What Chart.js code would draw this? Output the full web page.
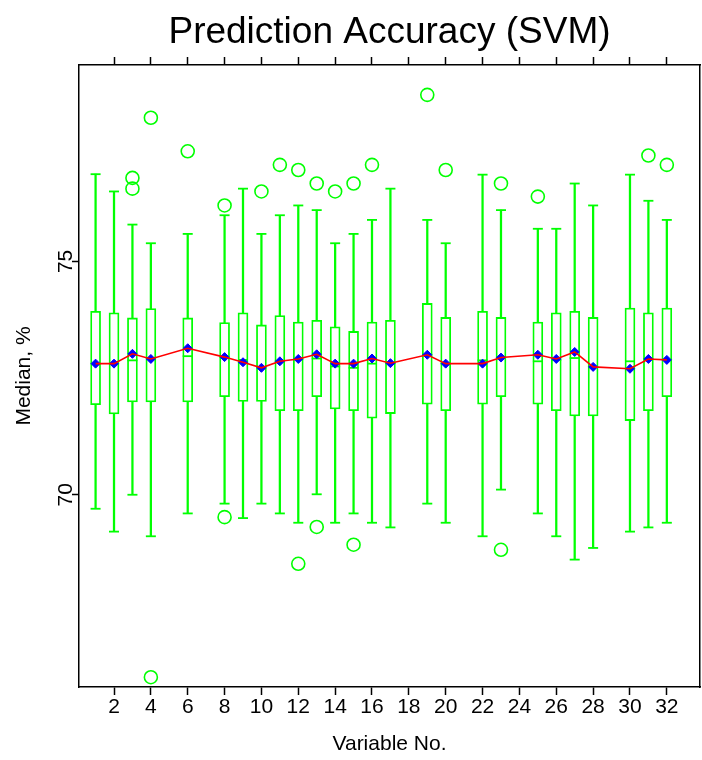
<!DOCTYPE html>
<html><head><meta charset="utf-8">
<script src="https://cdn.jsdelivr.net/npm/chart.js@4.4.0/dist/chart.umd.min.js"></script>
<style>html,body{margin:0;padding:0;background:#fff;}canvas{display:block;}</style>
</head><body>
<canvas id="c" width="702" height="760"></canvas>
<script>
// ---- data ----
const variables   = [1, 2, 3, 4, 6, 8, 9, 10, 11, 12, 13, 14, 15, 16, 17, 19, 20, 22, 23, 25, 26, 27, 28, 30, 31, 32];
const whiskerLow  = [69.70, 69.21, 70.00, 69.11, 69.60, 69.81, 69.50, 69.81, 69.60, 69.40, 70.01, 69.40, 69.60, 69.40, 69.30, 69.81, 69.40, 69.11, 70.11, 69.60, 69.11, 68.61, 68.86, 69.21, 69.30, 69.40];
const quartile1   = [71.93, 71.73, 71.99, 71.99, 71.99, 72.10, 72.00, 72.00, 71.80, 71.80, 72.10, 71.84, 71.80, 71.64, 71.74, 71.94, 71.80, 71.94, 72.10, 71.94, 71.80, 71.69, 71.69, 71.59, 71.80, 72.10];
const medians     = [72.81, 72.81, 72.88, 72.93, 72.97, 72.95, 72.89, 72.72, 72.86, 72.91, 72.92, 72.75, 72.72, 72.81, 72.82, 73.00, 72.81, 72.88, 72.94, 72.86, 72.89, 72.93, 72.74, 72.86, 72.91, 72.89];
const quartile3   = [73.93, 73.90, 73.79, 73.99, 73.79, 73.69, 73.90, 73.64, 73.84, 73.70, 73.74, 73.60, 73.50, 73.70, 73.74, 74.10, 73.80, 73.93, 73.80, 73.70, 73.90, 73.93, 73.80, 74.00, 73.90, 74.00];
const whiskerHigh = [76.87, 76.50, 75.79, 75.39, 75.59, 75.99, 76.56, 75.59, 75.99, 76.20, 76.10, 75.39, 75.59, 75.89, 76.56, 75.89, 75.39, 76.86, 76.10, 75.70, 75.70, 76.67, 76.20, 76.86, 76.30, 75.89];
const means       = [72.81, 72.81, 73.02, 72.91, 73.14, 72.95, 72.84, 72.72, 72.86, 72.91, 73.01, 72.81, 72.81, 72.92, 72.82, 73.00, 72.81, 72.81, 72.94, 73.00, 72.91, 73.06, 72.74, 72.70, 72.91, 72.89];
const outlierVars   = [3, 3, 4, 4, 6, 8, 8, 10, 11, 12, 12, 13, 13, 14, 15, 15, 16, 19, 20, 23, 23, 25, 31, 32];
const outlierValues = [76.79, 76.56, 78.08, 66.09, 77.36, 76.20, 69.52, 76.50, 77.07, 76.96, 68.52, 76.67, 69.31, 76.50, 76.67, 68.93, 77.07, 78.57, 76.96, 76.67, 68.82, 76.39, 77.27, 77.07];
const xTickStep = 2;
const yTickStep = 5;
const chartTitle = 'Prediction Accuracy (SVM)';
const xTitle = 'Variable No.';
const yTitle = 'Median, %';

// ---- build library structures ----
const GREEN = '#00ff00';
const FONT = '"Liberation Sans", Arial, sans-serif';
const boxData     = variables.map((v, i) => ({x: v, y: [quartile1[i], quartile3[i]]}));
const whiskerData = variables.map((v, i) => ({x: v, y: [whiskerLow[i], whiskerHigh[i]]}));
const capData     = variables.flatMap((v, i) => [{x: v, y: whiskerLow[i]}, {x: v, y: whiskerHigh[i]}]);
const medianData  = variables.map((v, i) => ({x: v, y: medians[i]}));
const meanData    = variables.map((v, i) => ({x: v, y: means[i]}));
const outlierData = outlierVars.map((v, i) => ({x: v, y: outlierValues[i]}));

const titlePlugin = {
  id: 'plotTitle',
  afterDraw(chart) {
    const {ctx, chartArea} = chart;
    ctx.save();
    ctx.font = '37px ' + FONT;
    ctx.fillStyle = '#000';
    ctx.textAlign = 'center';
    ctx.textBaseline = 'middle';
    ctx.fillText(chartTitle, (chartArea.left + chartArea.right) / 2, 33);
    ctx.restore();
  }
};
const yLabelPlugin = {
  id: 'rotatedYLabels',
  afterDraw(chart) {
    const s = chart.scales.y, ctx = chart.ctx;
    ctx.save();
    ctx.font = '21px ' + FONT;
    ctx.fillStyle = '#000';
    ctx.textAlign = 'center';
    ctx.textBaseline = 'middle';
    s.ticks.forEach(t => {
      const py = s.getPixelForValue(t.value);
      ctx.save();
      ctx.translate(s.right - 13, py);
      ctx.rotate(-Math.PI / 2);
      ctx.fillText(String(t.value), 0, 0);
      ctx.restore();
    });
    ctx.restore();
  }
};

const xMin = 0.1, xMax = 33.8, yMin = 65.88, yMax = 79.21;
const borderOpt = {color: '#000', width: 1.5};
function noSidePad(s) { s.paddingLeft = 0; s.paddingRight = 0; }

new Chart(document.getElementById('c'), {
  type: 'bar',
  data: {
    datasets: [
      {type: 'line', data: meanData, borderColor: '#ff0000', borderWidth: 1.6, pointRadius: 0, fill: false, tension: 0, order: 1},
      {type: 'scatter', data: meanData, pointStyle: 'rectRot', pointRadius: 4.5, backgroundColor: '#0000ff', borderColor: '#0000ff', borderWidth: 1, order: 2},
      {type: 'scatter', data: outlierData, pointStyle: 'circle', pointRadius: 6.5, backgroundColor: 'rgba(0,0,0,0)', borderColor: GREEN, borderWidth: 1.6, order: 3},
      {type: 'scatter', data: medianData, pointStyle: 'line', pointRadius: 5, borderColor: GREEN, borderWidth: 1.8, order: 4},
      {type: 'scatter', data: capData, pointStyle: 'line', pointRadius: 5, borderColor: GREEN, borderWidth: 1.8, order: 4},
      {type: 'bar', data: boxData, backgroundColor: '#ffffff', borderColor: GREEN, borderWidth: 1.8, borderSkipped: false, barThickness: 10, grouped: false, order: 5},
      {type: 'bar', data: whiskerData, backgroundColor: GREEN, borderWidth: 0, barThickness: 1.6, grouped: false, order: 6}
    ]
  },
  options: {
    responsive: false,
    animation: false,
    events: [],
    layout: {padding: 0, autoPadding: false},
    plugins: {legend: {display: false}, tooltip: {enabled: false}, title: {display: false}},
    scales: {
      x: {
        type: 'linear', position: 'bottom', min: xMin, max: xMax, offset: false,
        ticks: {stepSize: xTickStep, includeBounds: false, autoSkip: false, maxRotation: 0, color: '#000', font: {family: FONT, size: 21}, padding: 0},
        grid: {drawOnChartArea: false, offset: false, color: '#000', tickLength: 8, tickWidth: 1.5},
        border: borderOpt,
        title: {display: true, text: xTitle, color: '#000', font: {family: FONT, size: 21}, padding: {top: 0, bottom: 3}},
        afterFit(s) { s.height = 73; noSidePad(s); }
      },
      x2: {
        type: 'linear', position: 'top', min: xMin, max: xMax, offset: false,
        ticks: {stepSize: xTickStep, includeBounds: false, autoSkip: false, display: false},
        grid: {drawOnChartArea: false, offset: false, color: '#000', tickLength: 8, tickWidth: 1.5},
        border: borderOpt,
        afterFit(s) { s.height = 65; noSidePad(s); }
      },
      y: {
        type: 'linear', position: 'left', min: yMin, max: yMax,
        ticks: {stepSize: yTickStep, includeBounds: false, callback: () => '', font: {size: 20}},
        grid: {drawOnChartArea: false, color: '#000', tickLength: 7, tickWidth: 1.5},
        border: borderOpt,
        title: {display: true, text: yTitle, color: '#000', font: {family: FONT, size: 21}, padding: {top: 12, bottom: 0}},
        afterFit(s) { s.width = 79; s.paddingTop = 0; s.paddingBottom = 0; }
      },
      y2: {
        type: 'linear', position: 'right', min: yMin, max: yMax,
        ticks: {display: false},
        grid: {drawOnChartArea: false, drawTicks: false},
        border: borderOpt,
        afterFit(s) { s.width = 2; s.paddingTop = 0; s.paddingBottom = 0; }
      }
    }
  },
  plugins: [titlePlugin, yLabelPlugin]
});
</script>
</body></html>
